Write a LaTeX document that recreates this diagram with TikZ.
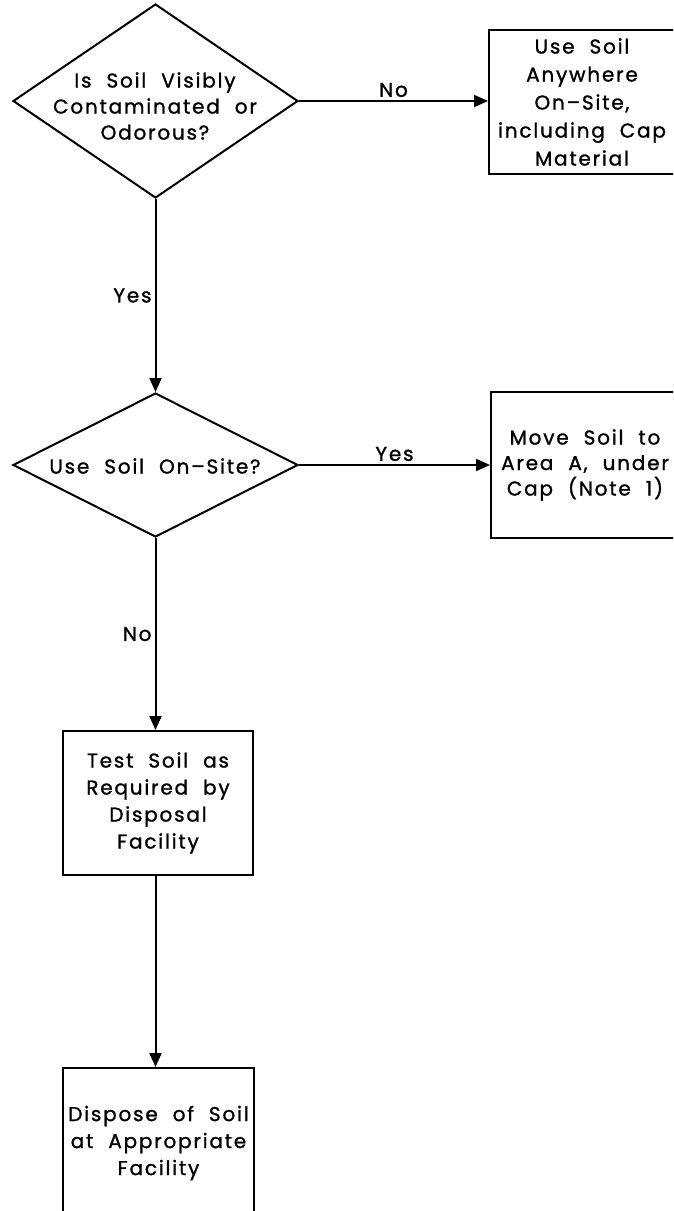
\documentclass[tikz,border=0pt]{standalone}
\usepackage{fontspec}
\setmainfont{Poppins}[LetterSpace=9, WordSpace=2.1, FakeBold=1.2]
\usetikzlibrary{shapes.geometric,arrows.meta}
\begin{document}
\begin{tikzpicture}[x=1pt,y=-1pt,
  dia/.style={draw, shape=diamond, line width=2pt, inner sep=0pt},
  box/.style={draw, rectangle, line width=2pt, inner sep=0pt, align=center},
  txt/.style={align=center, inner sep=0pt},
  lbl/.style={font=\fontsize{20}{22}\selectfont, inner sep=3pt},
  arr/.style={-{Triangle[length=14pt,width=12pt]}, line width=2pt}]
\useasboundingbox (0,0) rectangle (673,1211);
\clip (0,0) rectangle (673,1211);
% decisions
\node[dia, minimum width=285pt, minimum height=194pt] (d1) at (155.5,101) {};
\node[txt, font=\fontsize{20}{26}\selectfont] (t1) at (155,106) {Is Soil Visibly\\Contaminated or\\Odorous?};
\node[dia, minimum width=285pt, minimum height=144pt] (d2) at (155.5,465) {};
\node[txt, font=\fontsize{20}{26}\selectfont] (t2) at (155,466) {Use Soil On--Site?};
% boxes
\node[box, minimum width=186pt, minimum height=144pt, font=\fontsize{20}{28}\selectfont] (b1) at (582,102) {Use Soil\\Anywhere\\On--Site,\\including Cap\\Material};
\node[box, minimum width=188pt, minimum height=146pt, font=\fontsize{20}{25.5}\selectfont] (b2) at (585,465) {Move Soil to\\Area A, under\\Cap (Note 1)};
\node[box, minimum width=190pt, minimum height=144pt, font=\fontsize{20}{27}\selectfont] (b3) at (158,803) {Test Soil as\\Required by\\Disposal\\Facility};
\node[box, minimum width=191pt, minimum height=150pt, font=\fontsize{20}{27}\selectfont] (b4) at (158.5,1143) {Dispose of Soil\\at Appropriate\\Facility};
% connectors
\draw[arr] (d1.east) -- node[lbl, above] {No} (b1.west |- d1.east);
\draw[arr] (d1.south) -- node[lbl, left] {Yes} (d2.north);
\draw[arr] (d2.east) -- node[lbl, above] {Yes} (b2.west |- d2.east);
\draw[arr] (d2.south) -- node[lbl, left] {No} (b3.north -| d2.south);
\draw[arr] (b3.south -| d2.south) -- (b4.north -| d2.south);
\end{tikzpicture}
\end{document}
